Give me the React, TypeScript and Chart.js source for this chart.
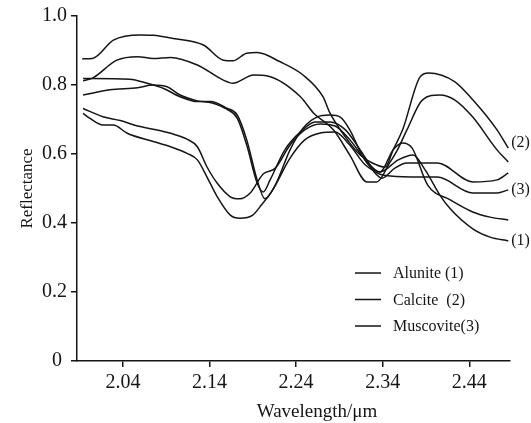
import React, { useEffect, useRef } from 'react';
import { Chart, registerables } from 'chart.js';
Chart.register(...registerables);

// Wavelength (µm) and reflectance for each traced curve
const calciteAW = [1.993, 2.005, 2.029, 2.060, 2.075, 2.098, 2.133, 2.156, 2.167, 2.183, 2.195, 2.221, 2.248, 2.271, 2.279, 2.297, 2.314, 2.328, 2.343, 2.352, 2.363, 2.383, 2.393, 2.423, 2.444, 2.472, 2.485];
const calciteAR = [0.876, 0.877, 0.930, 0.945, 0.944, 0.935, 0.916, 0.872, 0.870, 0.892, 0.894, 0.868, 0.829, 0.766, 0.719, 0.649, 0.597, 0.574, 0.562, 0.612, 0.670, 0.823, 0.835, 0.810, 0.757, 0.670, 0.617];

const calciteBW = [1.994, 2.005, 2.033, 2.057, 2.075, 2.095, 2.126, 2.156, 2.167, 2.191, 2.207, 2.245, 2.260, 2.283, 2.302, 2.322, 2.333, 2.348, 2.357, 2.368, 2.386, 2.406, 2.423, 2.444, 2.472, 2.485];
const calciteBR = [0.812, 0.820, 0.872, 0.882, 0.877, 0.880, 0.858, 0.814, 0.805, 0.829, 0.826, 0.766, 0.719, 0.670, 0.597, 0.519, 0.519, 0.574, 0.612, 0.670, 0.757, 0.771, 0.757, 0.707, 0.612, 0.577];

const muscoviteAW = [1.994, 2.048, 2.068, 2.087, 2.106, 2.126, 2.141, 2.160, 2.172, 2.183, 2.195, 2.204, 2.216, 2.233, 2.248, 2.264, 2.279, 2.291, 2.302, 2.316, 2.328, 2.339, 2.354, 2.368, 2.403, 2.444, 2.472, 2.485];
const muscoviteAR = [0.819, 0.817, 0.805, 0.790, 0.766, 0.752, 0.752, 0.733, 0.713, 0.641, 0.525, 0.470, 0.510, 0.612, 0.675, 0.707, 0.713, 0.707, 0.670, 0.597, 0.554, 0.530, 0.559, 0.574, 0.574, 0.519, 0.525, 0.545];

const muscoviteBW = [1.994, 2.025, 2.057, 2.075, 2.091, 2.106, 2.126, 2.143, 2.160, 2.172, 2.183, 2.195, 2.202, 2.210, 2.227, 2.245, 2.262, 2.279, 2.297, 2.314, 2.332, 2.349, 2.383, 2.403, 2.444, 2.472, 2.485];
const muscoviteBR = [0.771, 0.786, 0.792, 0.800, 0.795, 0.771, 0.754, 0.748, 0.730, 0.704, 0.626, 0.516, 0.490, 0.525, 0.612, 0.664, 0.693, 0.693, 0.670, 0.612, 0.548, 0.536, 0.533, 0.533, 0.487, 0.487, 0.496];

const aluniteAW = [1.994, 2.017, 2.037, 2.057, 2.075, 2.095, 2.114, 2.126, 2.137, 2.149, 2.164, 2.175, 2.187, 2.202, 2.216, 2.233, 2.250, 2.268, 2.285, 2.302, 2.320, 2.337, 2.352, 2.363, 2.374, 2.392, 2.418, 2.444, 2.464, 2.485];
const aluniteAR = [0.732, 0.708, 0.697, 0.681, 0.672, 0.660, 0.643, 0.621, 0.563, 0.515, 0.476, 0.470, 0.487, 0.542, 0.559, 0.626, 0.670, 0.687, 0.681, 0.641, 0.583, 0.548, 0.612, 0.632, 0.617, 0.510, 0.467, 0.432, 0.417, 0.409];

const aluniteBW = [1.994, 2.002, 2.017, 2.029, 2.045, 2.075, 2.095, 2.114, 2.126, 2.137, 2.149, 2.164, 2.175, 2.190, 2.198, 2.213, 2.233, 2.250, 2.268, 2.285, 2.302, 2.320, 2.337, 2.358, 2.375, 2.389, 2.406, 2.418, 2.444, 2.464, 2.485];
const aluniteBR = [0.718, 0.703, 0.684, 0.684, 0.660, 0.636, 0.621, 0.602, 0.583, 0.534, 0.476, 0.423, 0.414, 0.423, 0.446, 0.496, 0.588, 0.641, 0.661, 0.664, 0.626, 0.568, 0.548, 0.583, 0.597, 0.554, 0.481, 0.441, 0.383, 0.359, 0.348];

const xTicks = [2.04, 2.14, 2.24, 2.34, 2.44];
const yTicks = [0, 0.2, 0.4, 0.6, 0.8, 1.0];
const legendLabels = ['Alunite (1)', 'Calcite  (2)', 'Muscovite(3)'];
const xTitle = 'Wavelength/μm';
const yTitle = 'Reflectance';

const SERIF = '"Liberation Serif", "Times New Roman", serif';
const INK = '#151515';

const pts = (w: number[], r: number[]) => w.map((x, i) => ({ x, y: r[i] }));

export default function App() {
  const ref = useRef<HTMLCanvasElement>(null);
  useEffect(() => {
    if (!ref.current) return;
    const mk = (label: string, w: number[], r: number[]) => ({
      label,
      data: pts(w, r),
      borderColor: INK,
      borderWidth: 1.5,
      pointRadius: 0,
      fill: false,
      tension: 0.25,
      cubicInterpolationMode: 'monotone' as const,
    });
    const annot = {
      id: 'annot',
      afterDraw(chart: any) {
        const ctx = chart.ctx;
        const xs = chart.scales.x;
        const ys = chart.scales.y;
        ctx.save();
        ctx.fillStyle = INK;
        ctx.strokeStyle = INK;
        ctx.lineWidth = 1.5;
        ctx.textBaseline = 'middle';
        ctx.textAlign = 'left';
        ctx.font = `16px ${SERIF}`;
        legendLabels.forEach((t, i) => {
          const y = 273 + i * 26.5;
          ctx.beginPath();
          ctx.moveTo(355, y);
          ctx.lineTo(381, y);
          ctx.stroke();
          ctx.fillText(t, 393, y + 1);
        });
        const ends: [string, number[], number[], number][] = [
          ['(2)', calciteAW, calciteAR, -5],
          ['(3)', muscoviteBW, muscoviteBR, 0],
          ['(1)', aluniteBW, aluniteBR, 0],
        ];
        ends.forEach(([t, w, r, dy]) => {
          const px = xs.getPixelForValue(w[w.length - 1]);
          const py = ys.getPixelForValue(r[r.length - 1]);
          ctx.fillText(t, px + 3, py + dy);
        });
        // x-axis title (sits right of the plot centre in the reference)
        ctx.font = `19px ${SERIF}`;
        ctx.textAlign = 'center';
        ctx.fillText(xTitle, 317, 412);
        ctx.restore();
      },
    };
    const chart = new Chart(ref.current, {
      type: 'line',
      data: {
        datasets: [
          mk('Calcite (2)', calciteAW, calciteAR),
          mk('Calcite (2)', calciteBW, calciteBR),
          mk('Muscovite(3)', muscoviteAW, muscoviteAR),
          mk('Muscovite(3)', muscoviteBW, muscoviteBR),
          mk('Alunite (1)', aluniteAW, aluniteAR),
          mk('Alunite (1)', aluniteBW, aluniteBR),
        ],
      },
      options: {
        animation: false,
        responsive: true,
        maintainAspectRatio: false,
        layout: { padding: { top: 16, right: 21, left: 0, bottom: 0 } },
        plugins: { legend: { display: false }, tooltip: { enabled: false } },
        scales: {
          x: {
            type: 'linear',
            min: 1.987,
            max: 2.487,
            afterBuildTicks: (s: any) => {
              s.ticks = xTicks.map((v) => ({ value: v }));
            },
            afterFit: (s: any) => {
              s.height = 62;
            },
            ticks: {
              color: INK,
              font: { family: SERIF, size: 20 },
              padding: 4,
              maxRotation: 0,
              callback: (v: any) => Number(v).toFixed(2),
            },
            grid: { display: true, drawOnChartArea: false, drawTicks: true, tickLength: 6, color: INK, lineWidth: 1.5 },
            border: { display: true, color: INK, width: 1.5 },
            title: { display: false },
          },
          y: {
            type: 'linear',
            min: 0,
            max: 1,
            afterBuildTicks: (s: any) => {
              s.ticks = yTicks.map((v) => ({ value: v }));
            },
            afterFit: (s: any) => {
              s.width = 77;
            },
            ticks: {
              color: INK,
              font: { family: SERIF, size: 20 },
              padding: 4,
              callback: (v: any) => (Number(v) === 0 ? '0 ' : Number(v).toFixed(1)),
            },
            grid: { display: true, drawOnChartArea: false, drawTicks: true, tickLength: 6, color: INK, lineWidth: 1.5 },
            border: { display: true, color: INK, width: 1.5 },
            title: {
              display: true,
              text: yTitle,
              color: INK,
              font: { family: SERIF, size: 17 },
              padding: { top: 17, bottom: 0 },
            },
          },
        },
      },
      plugins: [annot],
    });
    return () => chart.destroy();
  }, []);
  return (
    <div style={{ position: 'fixed', left: 0, top: 0, width: 531, height: 423, background: '#fff' }}>
      <canvas ref={ref} />
    </div>
  );
}
